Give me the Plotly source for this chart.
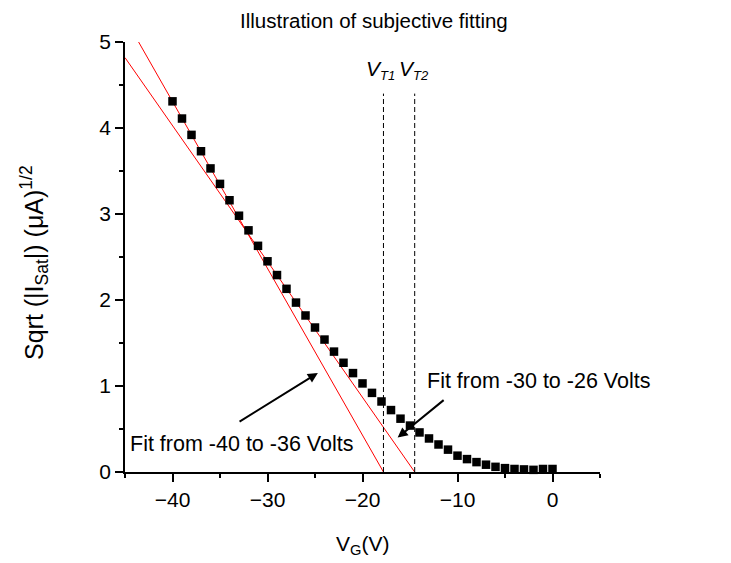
import numpy as np
import plotly.graph_objects as go

# ---------------- data ----------------
vg = list(range(-40, 1))  # gate voltage (V)
sqrt_isat = [4.31, 4.11, 3.92, 3.73, 3.53, 3.35, 3.16, 2.98, 2.81, 2.63,
             2.45, 2.29, 2.13, 1.97, 1.82, 1.68, 1.54, 1.40, 1.27, 1.15,
             1.03, 0.92, 0.82, 0.72, 0.62, 0.54, 0.46, 0.39, 0.32, 0.26,
             0.19, 0.15, 0.115, 0.085, 0.06, 0.045, 0.035, 0.03, 0.025, 0.035, 0.035]
fit1_range = (-40, -36)
fit2_range = (-30, -26)
x_range = [-45, 5]
y_range = [0, 5]
x_ticks = [-40, -30, -20, -10, 0]
y_ticks = [0, 1, 2, 3, 4, 5]
vt_line_top = 4.4
title_text = "Illustration of subjective fitting"
fit1_label = "Fit from -40 to -36 Volts"
fit2_label = "Fit from -30 to -26 Volts"

FONT = "Liberation Sans, Arial, sans-serif"

vg_arr = np.array(vg, dtype=float)
y_arr = np.array(sqrt_isat, dtype=float)


def fit(rng):
    m = (vg_arr >= rng[0]) & (vg_arr <= rng[1])
    slope, intercept = np.polyfit(vg_arr[m], y_arr[m], 1)
    root = -intercept / slope
    return slope, intercept, root


s1, b1, vt1 = fit(fit1_range)
s2, b2, vt2 = fit(fit2_range)

fig = go.Figure()

for s, b, r in [(s1, b1, vt1), (s2, b2, vt2)]:
    lx = [x_range[0], r]
    ly = [s * x + b for x in lx]
    fig.add_trace(go.Scatter(x=lx, y=ly, mode="lines",
                             line=dict(color="#ff0000", width=1),
                             showlegend=False, hoverinfo="skip"))

for r in [vt1, vt2]:
    fig.add_trace(go.Scatter(x=[r, r], y=[0, vt_line_top], mode="lines",
                             line=dict(color="black", width=1, dash="5px,3px"),
                             showlegend=False, hoverinfo="skip"))

fig.add_trace(go.Scatter(x=vg, y=sqrt_isat, mode="markers",
                         marker=dict(symbol="square", size=8.5, color="black",
                                     line=dict(width=0)),
                         cliponaxis=False, showlegend=False))

W, H = 731, 563
L, R, T, B = 125, 131, 42, 91
PW, PH = W - L - R, H - T - B
px_per_v = PW / (x_range[1] - x_range[0])


def vt_text(sub):
    return ("<i>V<sub><span style='font-size:13px'>" + sub + "</span></sub></i>")


annotations = [
    # V_T labels
    dict(x=vt1 - 2.5 / px_per_v, y=4.68, xref="x", yref="y", text=vt_text("T1"),
         showarrow=False, font=dict(size=21, family=FONT, color="black"),
         xanchor="center", yanchor="middle"),
    dict(x=vt2 - 0.5 / px_per_v, y=4.68, xref="x", yref="y", text=vt_text("T2"),
         showarrow=False, font=dict(size=21, family=FONT, color="black"),
         xanchor="center", yanchor="middle"),
    # fit labels
    dict(x=-44.7, y=0.33, xref="x", yref="y", text=fit1_label, showarrow=False,
         font=dict(size=21.5, family=FONT, color="black"), xanchor="left", yanchor="middle"),
    dict(x=-13.4, y=1.06, xref="x", yref="y", text=fit2_label, showarrow=False,
         font=dict(size=21.5, family=FONT, color="black"), xanchor="left", yanchor="middle"),
    # arrows
    dict(x=-24.7, y=1.15, ax=-33.1, ay=0.575, xref="x", yref="y", axref="x", ayref="y",
         text="", showarrow=True, arrowhead=2, arrowsize=1, arrowwidth=2, arrowcolor="black",
         standoff=0, startstandoff=0),
    dict(x=-16.3, y=0.40, ax=-11.3, ay=0.85, xref="x", yref="y", axref="x", ayref="y",
         text="", showarrow=True, arrowhead=2, arrowsize=1, arrowwidth=2, arrowcolor="black",
         standoff=0, startstandoff=0),
    # axis titles
    dict(x=(34 - L) / PW, y=1 - (263 - T) / PH, xref="paper", yref="paper",
         text="Sqrt (|I<sub>Sat</sub>|) (\u03bcA)<sup>1/2</sup>", textangle=-90,
         showarrow=False, font=dict(size=25, family=FONT, color="black"),
         xanchor="center", yanchor="middle"),
    dict(x=0.5, y=-(545 - (T + PH)) / PH, xref="paper", yref="paper",
         text="V<sub>G</sub>(V)", showarrow=False,
         font=dict(size=21, family=FONT, color="black"),
         xanchor="center", yanchor="middle"),
    # title
    dict(x=(374 - L) / PW, y=1 + (T - 20) / PH, xref="paper", yref="paper",
         text=title_text, showarrow=False,
         font=dict(size=20.5, family=FONT, color="black"),
         xanchor="center", yanchor="middle"),
]

axis_common = dict(showline=True, linecolor="black", linewidth=1.6,
                   ticks="outside", ticklen=8, tickwidth=1.6, tickcolor="black",
                   showgrid=False, zeroline=False, mirror=False,
                   tickfont=dict(size=21, family=FONT, color="black"))

fig.update_layout(
    width=W, height=H,
    margin=dict(l=L, r=R, t=T, b=B),
    paper_bgcolor="white", plot_bgcolor="white",
    annotations=annotations,
    xaxis=dict(range=x_range, tickvals=x_ticks,
               minor=dict(dtick=5, tick0=0, ticklen=4, tickwidth=1.6, ticks="outside",
                          tickcolor="black"),
               **axis_common),
    yaxis=dict(range=y_range, tickvals=y_ticks,
               minor=dict(dtick=0.5, tick0=0, ticklen=4, tickwidth=1.6, ticks="outside",
                          tickcolor="black"),
               **axis_common),
)

fig.write_html("out.html")
